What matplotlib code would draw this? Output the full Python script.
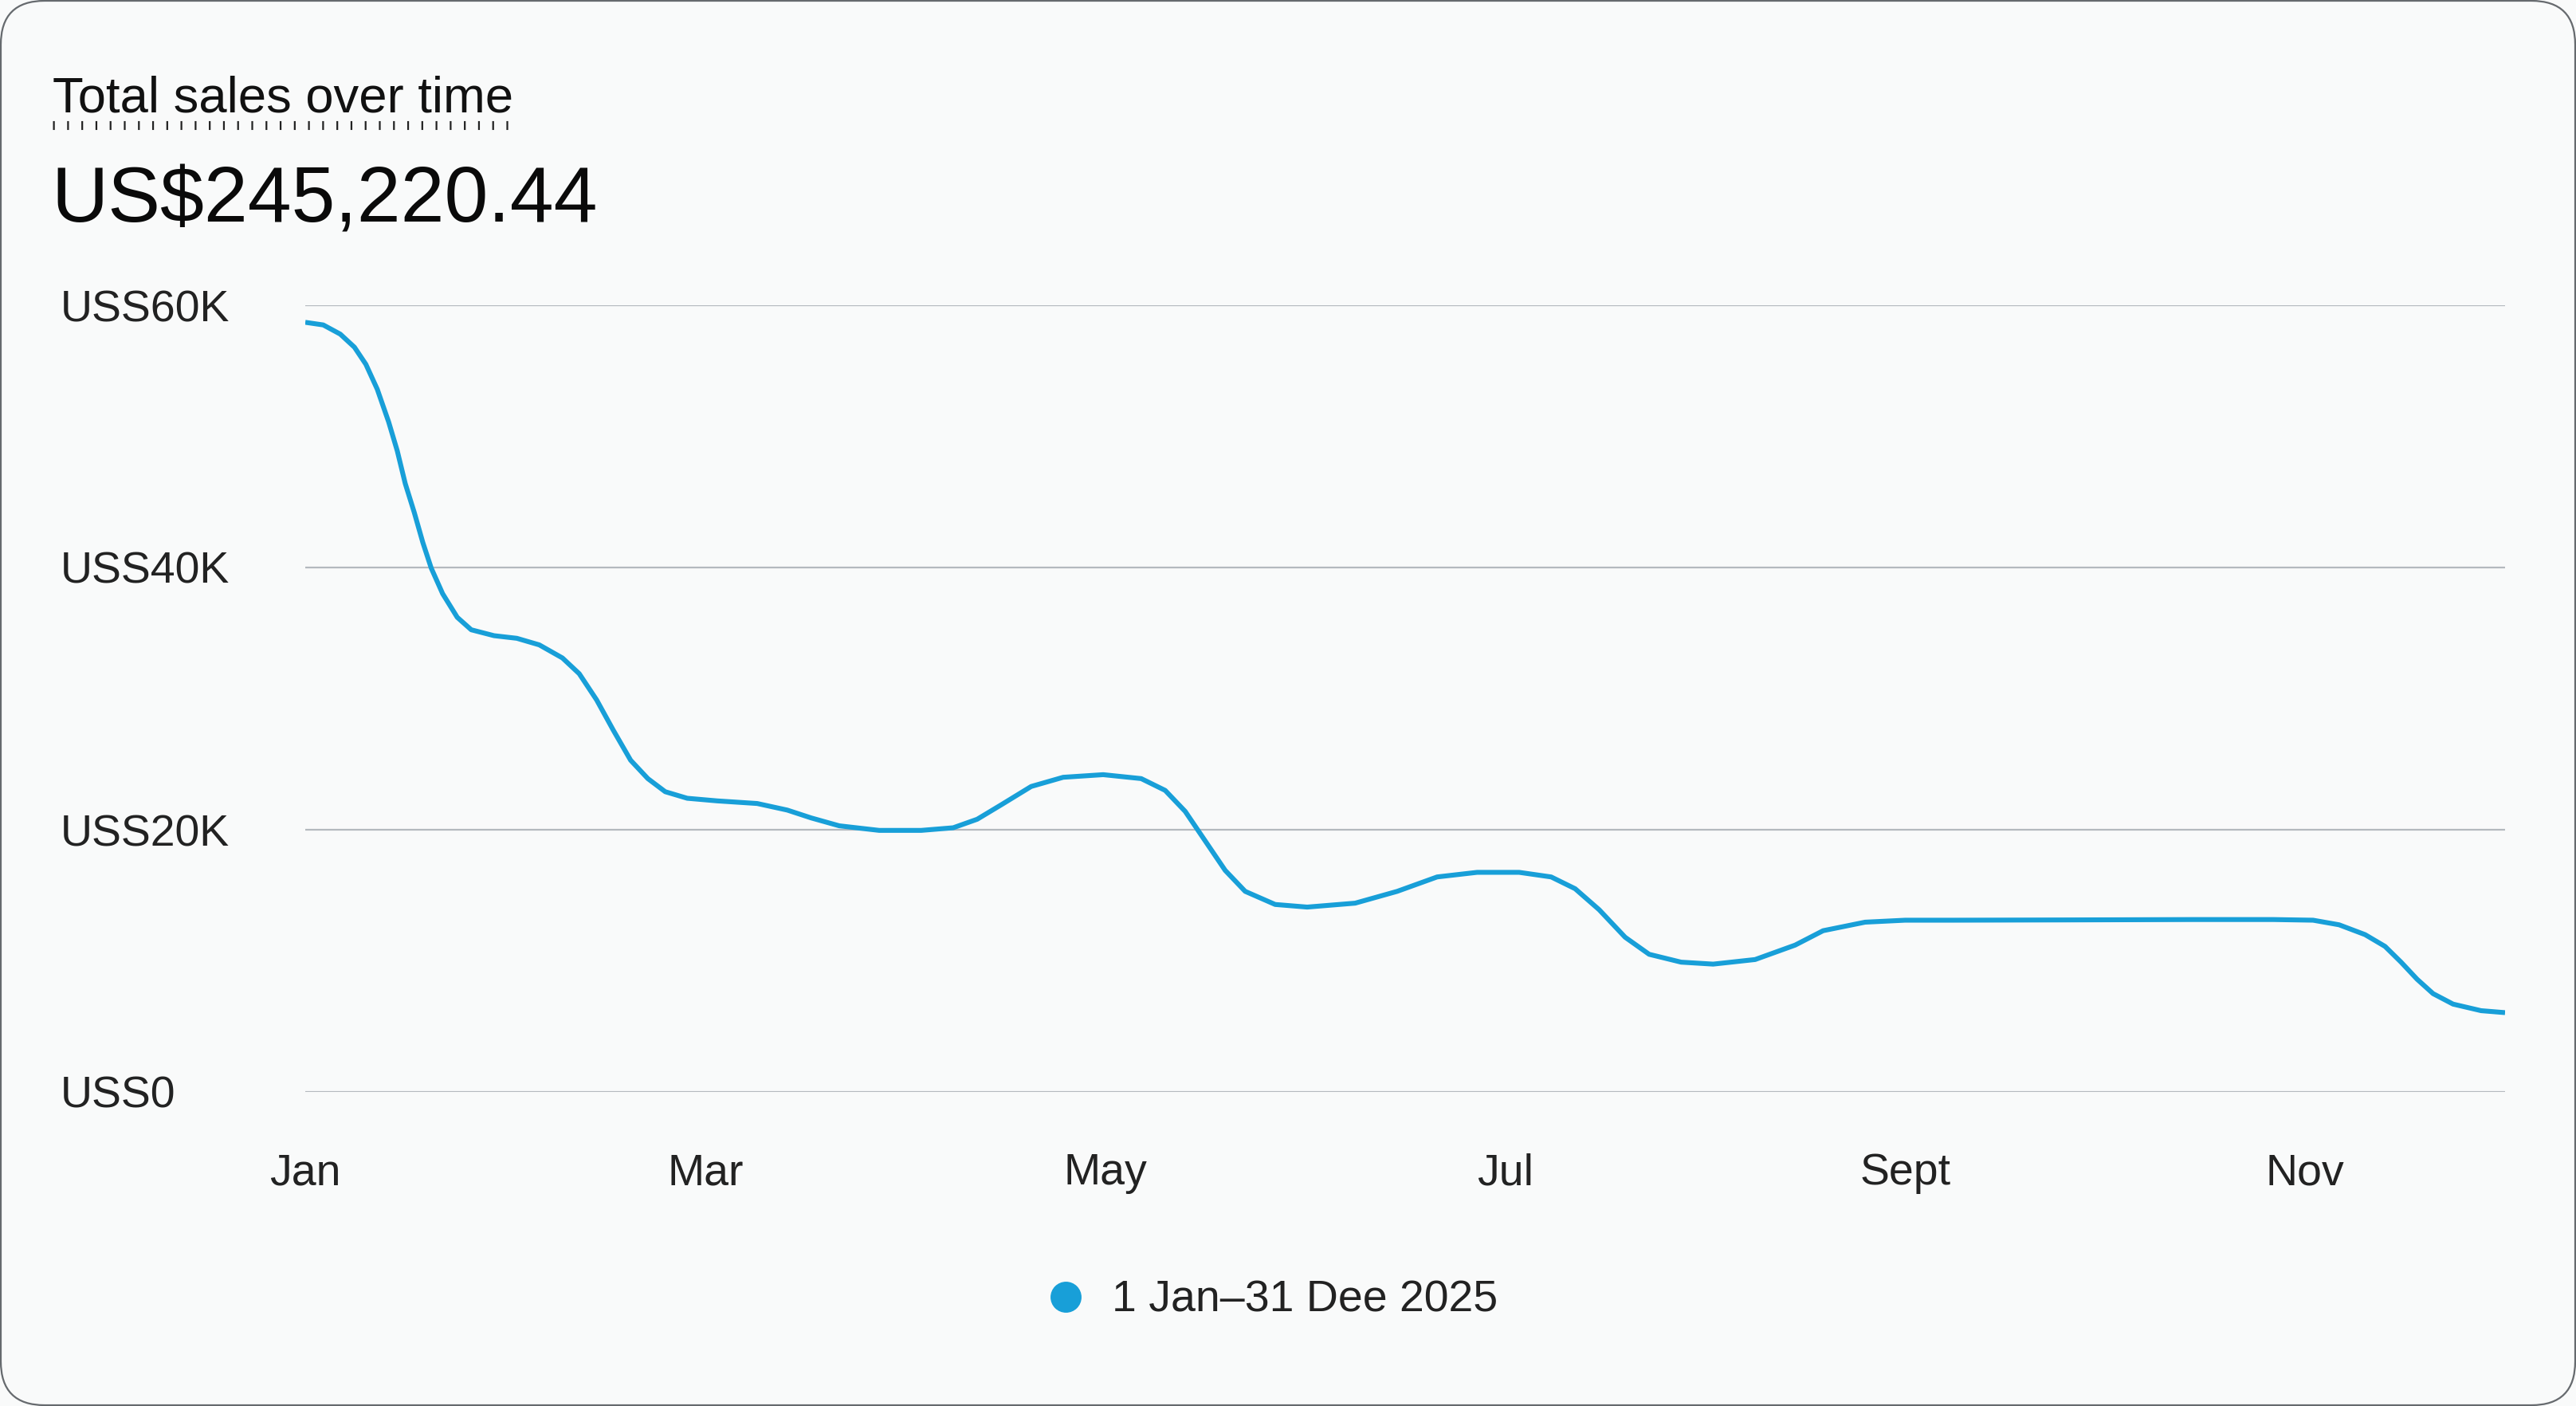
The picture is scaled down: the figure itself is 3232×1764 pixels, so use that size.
import matplotlib
matplotlib.use("Agg")
from matplotlib import pyplot as plt
from matplotlib.lines import Line2D
from matplotlib.patches import FancyBboxPatch

# months since 1 Jan (0 = Jan, 11 = Dec), values in US$
month = [0.00, 0.09, 0.175, 0.246, 0.303, 0.36, 0.417, 0.46, 0.50, 0.545,
         0.588, 0.63, 0.687, 0.76, 0.83, 0.944, 1.058, 1.17, 1.286, 1.37,
         1.457, 1.54, 1.627, 1.713, 1.80, 1.91, 2.06, 2.26, 2.41, 2.53,
         2.67, 2.87, 3.08, 3.24, 3.36, 3.48, 3.63, 3.79, 3.99, 4.18,
         4.30, 4.40, 4.50, 4.60, 4.70, 4.85, 5.01, 5.25, 5.46, 5.66,
         5.86, 6.07, 6.23, 6.35, 6.47, 6.60, 6.72, 6.88, 7.04, 7.25,
         7.45, 7.59, 7.80, 8.00, 8.24, 8.80, 9.44, 9.84, 10.04, 10.17,
         10.30, 10.40, 10.48, 10.56, 10.64, 10.74, 10.88, 11.00]
sales = [58700, 58500, 57800, 56800, 55500, 53600, 51100, 48900, 46400, 44200,
         41900, 39950, 38000, 36200, 35250, 34800, 34600, 34100, 33100, 31900,
         29900, 27600, 25300, 23900, 22900, 22400, 22200, 22000, 21500, 20900,
         20300, 19950, 19950, 20150, 20800, 21900, 23300, 24000, 24200, 23900,
         23000, 21400, 19150, 16900, 15300, 14300, 14100, 14400, 15300, 16400,
         16750, 16750, 16400, 15500, 13900, 11800, 10500, 9900, 9750, 10100,
         11200, 12300, 12950, 13100, 13100, 13120, 13150, 13150, 13100, 12750,
         12000, 11100, 9900, 8600, 7500, 6700, 6200, 6050]

xtick_pos = [0, 2, 4, 6, 8, 10]
xtick_labels = ["Jan", "Mar", "May", "Jul", "Sept", "Nov"]
ytick_pos = [0, 20000, 40000, 60000]
ytick_labels = ["USS0", "USS20K", "USS40K", "USS60K"]

title = "Total sales over time"
total = "US$245,220.44"
series_label = "1 Jan\u201331 Dee 2025"

plt.rcParams['font.family'] = ['Liberation Sans', 'DejaVu Sans']

W, H, DPI = 3232, 1764, 200
bg = "#f9fafa"
line_color = "#189fd8"

fig = plt.figure(figsize=(W / DPI, H / DPI), dpi=DPI, facecolor=bg)

# rounded card outline
card = FancyBboxPatch((1, 1), W - 2, H - 2, boxstyle="round,pad=0,rounding_size=55",
                      transform=None, facecolor=bg, edgecolor="#666a6e", lw=0.8, zorder=-5)
fig.patches.append(card)

ax = fig.add_axes([383 / W, 1 - 1370 / H, (3143 - 383) / W, (1370 - 383) / H])
ax.set_zorder(2)
ax.set_facecolor("none")
ax.plot(month, sales, color=line_color, lw=2.2, solid_capstyle="butt",
        solid_joinstyle="round", zorder=3)

ax.set_xlim(0, 11)
ax.set_ylim(0, 60000)
ax.set_xticks(xtick_pos)
ax.set_xticklabels(xtick_labels, fontsize=20, color="#222222")
ax.set_yticks(ytick_pos)
ax.set_yticklabels(ytick_labels, fontsize=20, color="#222222")
for lab in ax.get_yticklabels():
    lab.set_horizontalalignment("left")
ax.tick_params(axis="y", length=0, pad=(383 - 76) / DPI * 72)
ax.tick_params(axis="x", length=0, pad=27.5)
ax.grid(axis="y", color="#b4b9be", lw=0.8)
ax.set_axisbelow(True)
for s in ax.spines.values():
    s.set_visible(False)

# header texts
fig.text(66 / W, 1 - 124 / H, title, fontsize=22.8, color="#111111", va="center", ha="left")
fig.add_artist(Line2D([66 / W, 643 / W], [1 - 157 / H, 1 - 157 / H], color="#222222",
                      lw=4.0, dashes=(0.2, 1.4)))
fig.text(64 / W, 1 - 253 / H, total, fontsize=35.5, color="#0a0a0a", va="center", ha="left",
         fontweight="medium")

# legend
handle = Line2D([], [], marker="o", ls="", color=line_color, markersize=13)
fig.legend(handles=[handle], labels=[series_label], loc="center",
           bbox_to_anchor=(1597 / W, 1 - 1632 / H), frameon=False, fontsize=20,
           handlelength=0.8, handletextpad=0.65, labelcolor="#222222")

fig.savefig("out.png", dpi=DPI, facecolor=bg)
